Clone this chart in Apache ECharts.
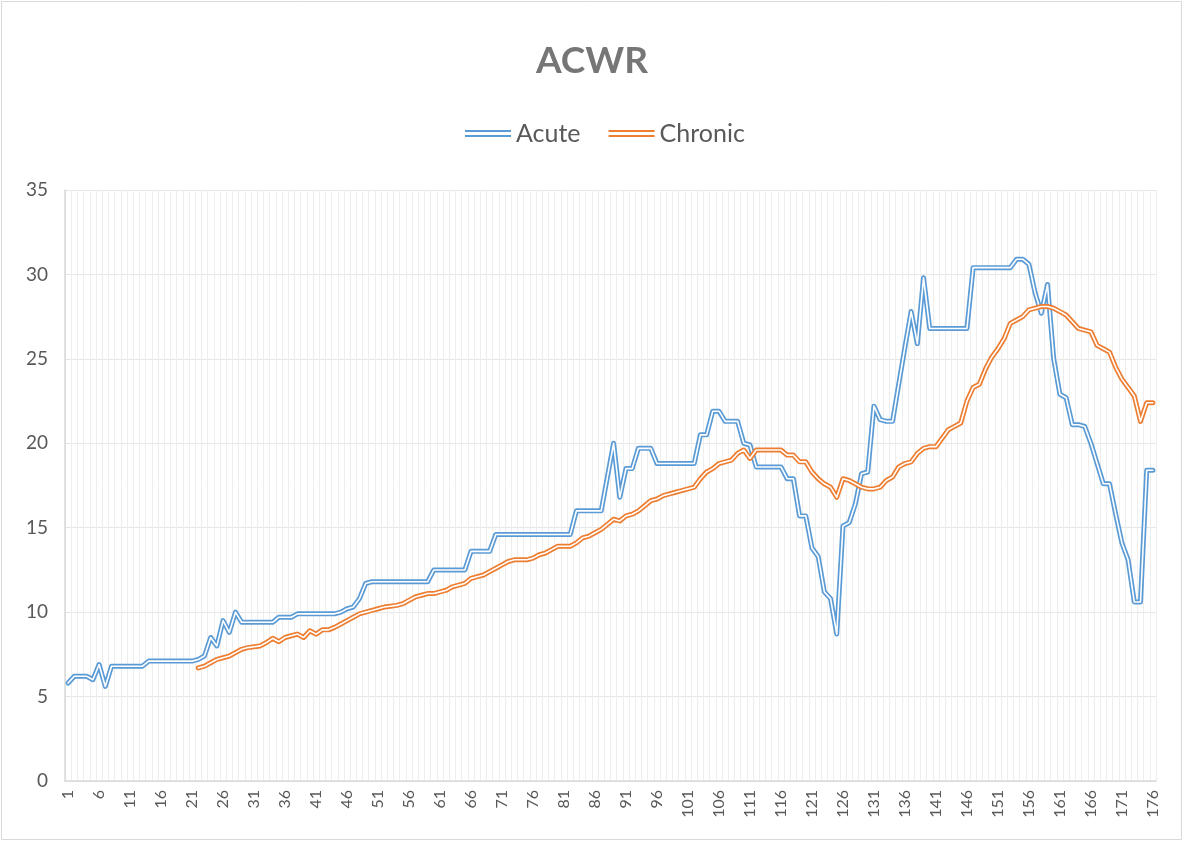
<!DOCTYPE html>
<html>
<head>
<meta charset="utf-8">
<title>ACWR</title>
<script src="https://cdn.jsdelivr.net/npm/echarts@6/dist/echarts.min.js"></script>
<style>
  html, body { margin: 0; padding: 0; background: #fff; }
  #chart { width: 1184px; height: 842px; }
</style>
</head>
<body>
<div id="chart"></div>
<script>
// day numbers 1..176 on the category axis
const days = Array.from({ length: 176 }, (_, i) => String(i + 1));

// Acute load, day 1 to 176
const acute = [
  5.8, 6.2, 6.2, 6.2, 6.0, 6.9, 5.6, 6.8, 6.8, 6.8,
  6.8, 6.8, 6.8, 7.1, 7.1, 7.1, 7.1, 7.1, 7.1, 7.1,
  7.1, 7.2, 7.4, 8.5, 8.0, 9.5, 8.8, 10.0, 9.4, 9.4,
  9.4, 9.4, 9.4, 9.4, 9.7, 9.7, 9.7, 9.9, 9.9, 9.9,
  9.9, 9.9, 9.9, 9.9, 10.0, 10.2, 10.3, 10.8, 11.7, 11.8,
  11.8, 11.8, 11.8, 11.8, 11.8, 11.8, 11.8, 11.8, 11.8, 12.5,
  12.5, 12.5, 12.5, 12.5, 12.5, 13.6, 13.6, 13.6, 13.6, 14.6,
  14.6, 14.6, 14.6, 14.6, 14.6, 14.6, 14.6, 14.6, 14.6, 14.6,
  14.6, 14.6, 16.0, 16.0, 16.0, 16.0, 16.0, 18.0, 20.0, 16.8,
  18.5, 18.5, 19.7, 19.7, 19.7, 18.8, 18.8, 18.8, 18.8, 18.8,
  18.8, 18.8, 20.5, 20.5, 21.9, 21.9, 21.3, 21.3, 21.3, 20.0,
  19.9, 18.6, 18.6, 18.6, 18.6, 18.6, 17.9, 17.9, 15.7, 15.7,
  13.8, 13.3, 11.2, 10.8, 8.7, 15.1, 15.3, 16.4, 18.2, 18.3,
  22.2, 21.4, 21.3, 21.3, 23.5, 25.7, 27.8, 25.9, 29.8, 26.8,
  26.8, 26.8, 26.8, 26.8, 26.8, 26.8, 30.4, 30.4, 30.4, 30.4,
  30.4, 30.4, 30.4, 30.9, 30.9, 30.6, 28.9, 27.7, 29.4, 25.0,
  22.9, 22.7, 21.1, 21.1, 21.0, 20.0, 18.8, 17.6, 17.6, 15.8,
  14.1, 13.1, 10.6, 10.6, 18.4, 18.4
];

// Chronic load starts on day 22
const chronicStart = 22;
const chronic = [
  6.7, 6.8, 7.0, 7.2, 7.3, 7.4, 7.6, 7.8, 7.9, 7.95,
  8.0, 8.2, 8.45, 8.25, 8.5, 8.6, 8.7, 8.5, 8.9, 8.7,
  8.95, 8.95, 9.1, 9.3, 9.5, 9.7, 9.9, 10.0, 10.1, 10.2,
  10.3, 10.35, 10.4, 10.5, 10.7, 10.9, 11.0, 11.1, 11.1, 11.2,
  11.3, 11.5, 11.6, 11.7, 12.0, 12.1, 12.2, 12.4, 12.6, 12.8,
  13.0, 13.1, 13.1, 13.1, 13.2, 13.4, 13.5, 13.7, 13.9, 13.9,
  13.9, 14.1, 14.4, 14.5, 14.7, 14.9, 15.2, 15.5, 15.4, 15.7,
  15.8, 16.0, 16.3, 16.6, 16.7, 16.9, 17.0, 17.1, 17.2, 17.3,
  17.4, 17.9, 18.3, 18.5, 18.8, 18.9, 19.0, 19.4, 19.6, 19.1,
  19.6, 19.6, 19.6, 19.6, 19.6, 19.3, 19.3, 18.9, 18.9, 18.3,
  17.9, 17.6, 17.4, 16.8, 17.9, 17.8, 17.6, 17.4, 17.3, 17.3,
  17.4, 17.8, 18.0, 18.6, 18.8, 18.9, 19.4, 19.7, 19.8, 19.8,
  20.3, 20.8, 21.0, 21.2, 22.5, 23.3, 23.5, 24.4, 25.1, 25.6,
  26.2, 27.1, 27.3, 27.5, 27.9, 28.0, 28.1, 28.1, 28.0, 27.8,
  27.6, 27.2, 26.8, 26.7, 26.6, 25.8, 25.6, 25.4, 24.5, 23.8,
  23.3, 22.8, 21.3, 22.4, 22.4
];

const yTicks = [0, 5, 10, 15, 20, 25, 30, 35];

const BLUE = "#5b9bd5";
const ORANGE = "#ed7d31";
const FONT = "Lato, 'Open Sans', sans-serif";

const chronicData = new Array(chronicStart - 1).fill(null).concat(chronic);

// Excel style double line: a wide coloured stroke with a thin white one on top
function doubleLine(name, data, color) {
  return [
    {
      name: name,
      type: "line",
      data: data,
      symbol: "none",
      connectNulls: false,
      itemStyle: { color: color },
      lineStyle: { color: color, width: 5, join: "round", cap: "round" }
    },
    {
      name: name + " inner",
      type: "line",
      data: data,
      symbol: "none",
      silent: true,
      connectNulls: false,
      itemStyle: { color: "#fff" },
      lineStyle: { color: "#fff", width: 1.6, join: "round", cap: "round" }
    }
  ];
}

const chart = echarts.init(document.getElementById("chart"));
chart.setOption({
  animation: false,
  backgroundColor: "#fff",
  graphic: [
    {
      type: "rect",
      shape: { x: 1.5, y: 1.5, width: 1180, height: 838 },
      style: { fill: "none", stroke: "#d9d9d9", lineWidth: 1 }
    }
  ],
  title: {
    text: "ACWR",
    left: "center",
    top: 38,
    textStyle: {
      color: "#767676",
      fontSize: 37,
      fontWeight: "bold",
      fontFamily: FONT
    }
  },
  legend: {
    data: ["Acute", "Chronic"],
    top: 116,
    left: 460,
    itemWidth: 46,
    itemHeight: 7,
    itemGap: 28,
    icon: "path://M0,0H46V2H0Z M0,5H46V7H0Z",
    itemStyle: { borderWidth: 0 },
    lineStyle: { width: 0 },
    textStyle: { color: "#595959", fontSize: 25, fontFamily: FONT }
  },
  grid: {
    left: 65,
    right: 28,
    top: 190,
    bottom: 61
  },
  xAxis: {
    type: "category",
    data: days,
    boundaryGap: true,
    axisLine: { show: true, lineStyle: { color: "#d9d9d9", width: 1.5 } },
    axisTick: { show: false },
    axisLabel: {
      interval: 4,
      rotate: 90,
      margin: 9,
      color: "#595959",
      fontSize: 16,
      fontFamily: FONT
    },
    splitLine: {
      show: true,
      interval: 0,
      lineStyle: { color: "#eeeeee", width: 1 }
    }
  },
  yAxis: {
    type: "value",
    min: yTicks[0],
    max: yTicks[yTicks.length - 1],
    interval: 5,
    axisLine: { show: true, lineStyle: { color: "#d9d9d9", width: 1.5 } },
    axisTick: { show: false },
    axisLabel: {
      margin: 17,
      color: "#595959",
      fontSize: 19,
      fontFamily: FONT
    },
    splitLine: { lineStyle: { color: "#e6e6e6", width: 1 } }
  },
  series: [].concat(
    doubleLine("Acute", acute, BLUE),
    doubleLine("Chronic", chronicData, ORANGE)
  )
});
</script>
</body>
</html>
